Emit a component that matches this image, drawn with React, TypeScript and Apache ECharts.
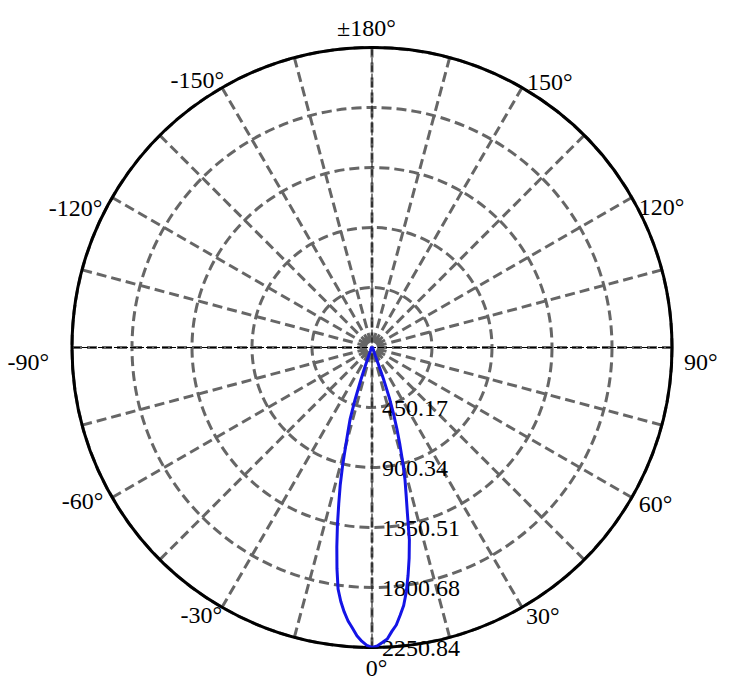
import React, { useEffect, useRef } from "react";
import * as echarts from "echarts";

// Luminous intensity distribution, angle in degrees (0° = downward)
const beamAngles = [
  -180, -150, -120, -90, -60, -40, -30, -25, -22, -20, -19, -18, -17, -16, -15, -14, -13, -12, -11, -10,
  -9, -8, -7, -6, -5, -4, -3, -2, -1, 0, 1, 2, 3, 4, 5, 6, 7, 8, 9, 10, 11, 12, 13, 14, 15, 16, 17, 18,
  19, 20, 21, 22, 25, 30, 40, 60, 90, 120, 150, 180,
];
const beamValues = [
  3, 3, 4, 5, 8, 12, 18, 30, 60, 150, 260, 410, 560, 650, 760, 910, 1060, 1200, 1360, 1520,
  1680, 1830, 1920, 1995, 2060, 2110, 2165, 2205, 2235, 2250.84, 2240, 2215, 2190, 2135, 2090, 2020, 1950, 1850, 1730, 1605, 1470, 1280, 1140, 1024, 890, 760, 640, 520,
  400, 250, 130, 70, 35, 20, 12, 8, 5, 4, 3, 3,
];
const radiusMax = 2250.844;
const radiusStep = radiusMax / 5;
const angleLabelValues = [0, 30, 60, 90, 120, 150, 180, 210, 240, 270, 300, 330];

const FONT = "Liberation Serif";
const FS = 24;

// per-label nudges [top, right, bottom, left]
const labelPads: Record<number, number[]> = {
  0: [0, 0, 0, 9],
  30: [-10, 0, 0, 0],
  60: [-10, 0, 0, 0],
  90: [29, 0, 0, 4],
  120: [0, 0, -26, 0],
  150: [0, 0, -13, 1],
  180: [0, 11, 0, 0],
  210: [0, -6, -11, 0],
  240: [0, 3, -28, 0],
  270: [29, 15, 0, 0],
  300: [-13, 2, 0, 0],
  330: [-11, -4, 0, 0],
};

function angleText(v: number): string {
  if (v === 180) return "±180°";
  return (v > 180 ? v - 360 : v) + "°";
}

export default function App() {
  const ref = useRef<HTMLDivElement>(null);
  useEffect(() => {
    if (!ref.current) return;
    const chart = echarts.init(ref.current, undefined, { renderer: "svg" });
    const toPolar = (a: number) => (a < 0 ? a + 360 : a);
    const curve = beamAngles.map((a, i) => [beamValues[i], toPolar(a)]);
    const rich: Record<string, any> = {};
    angleLabelValues.forEach((v) => {
      rich["l" + v] = {
        fontFamily: FONT,
        fontSize: FS,
        color: "#000",
        padding: labelPads[v],
      };
    });
    chart.setOption({
      animation: false,
      backgroundColor: "#fff",
      polar: { center: [372, 347.5], radius: 300 },
      angleAxis: {
        type: "value",
        min: 0,
        max: 360,
        interval: 15,
        startAngle: 270,
        clockwise: false,
        axisLine: { show: true, lineStyle: { color: "#000", width: 3 } },
        axisTick: { show: false },
        axisLabel: {
          show: true,
          margin: 8,
          color: "#000",
          fontFamily: FONT,
          fontSize: FS,
          rich,
          formatter: (v: number) =>
            angleLabelValues.indexOf(v) >= 0 ? "{l" + v + "|" + angleText(v) + "}" : "",
        },
        splitLine: {
          show: true,
          lineStyle: { color: "#666", width: 3, type: [10, 5] },
        },
      },
      radiusAxis: {
        type: "value",
        min: 0,
        max: radiusMax,
        interval: radiusStep,
        axisLine: { show: false },
        axisTick: { show: false },
        axisLabel: {
          show: true,
          margin: 10,
          color: "#000",
          fontFamily: FONT,
          fontSize: FS,
          formatter: (v: number) => (v === 0 ? "" : v.toFixed(2)),
        },
        splitLine: {
          show: true,
          lineStyle: { color: "#666", width: 3, type: [10, 5] },
        },
      },
      series: [
        {
          type: "line",
          coordinateSystem: "polar",
          data: [[radiusMax, 90], [radiusMax, 270]],
          symbol: "none",
          silent: true,
          lineStyle: { color: "#000", width: 1, type: [6, 2] },
          z: 1,
        },
        {
          type: "line",
          coordinateSystem: "polar",
          data: [[radiusMax, 0], [radiusMax, 180]],
          symbol: "none",
          silent: true,
          lineStyle: { color: "#000", width: 1, type: [6, 2] },
          z: 1,
        },
        {
          type: "line",
          coordinateSystem: "polar",
          data: curve,
          symbol: "none",
          smooth: false,
          lineStyle: { color: "#1414e6", width: 3 },
          z: 3,
        },
      ],
    });
    return () => chart.dispose();
  }, []);
  return (
    <div
      ref={ref}
      style={{ position: "absolute", left: 0, top: 0, width: 749, height: 682 }}
    />
  );
}
